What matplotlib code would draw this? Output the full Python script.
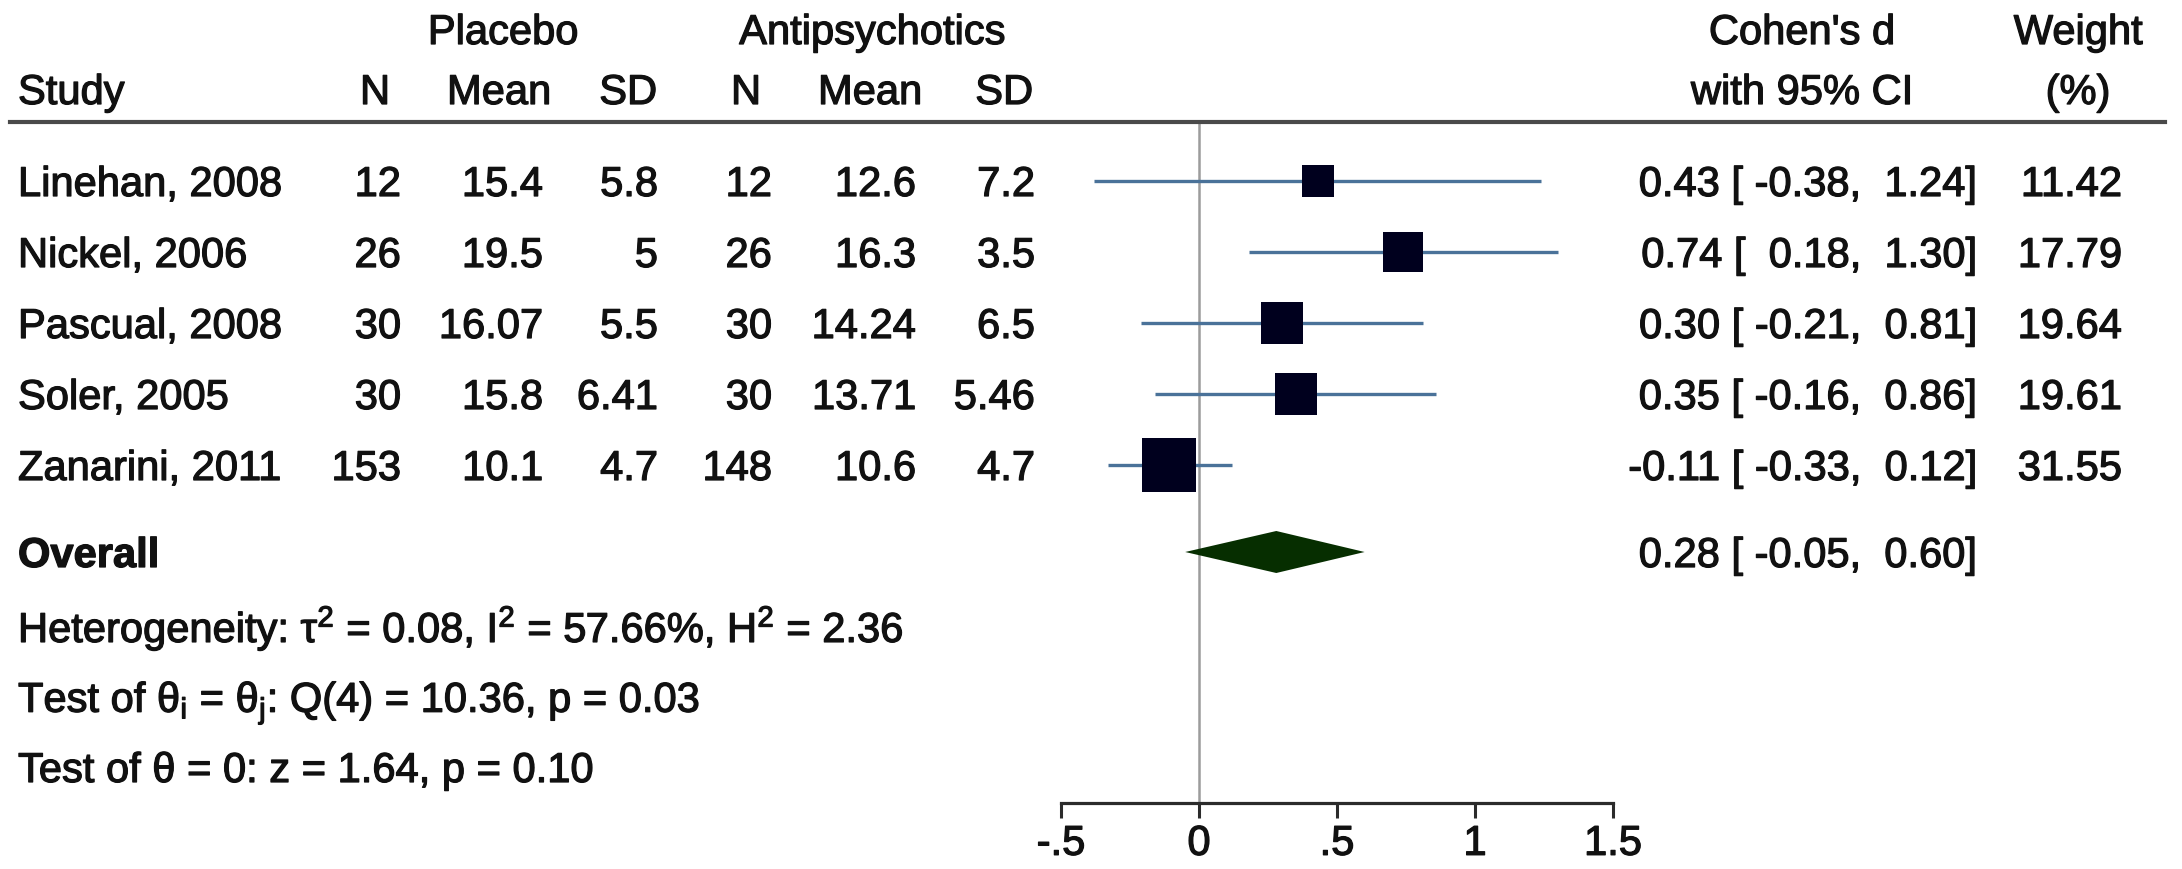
import numpy as np
import matplotlib.pyplot as plt
import matplotlib.transforms as mtransforms
import matplotlib.patheffects as pe
from matplotlib.patches import Polygon

plt.rcParams['font.family'] = ['Liberation Sans', 'DejaVu Sans']
plt.rcParams['mathtext.fontset'] = 'custom'
plt.rcParams['mathtext.rm'] = 'Liberation Sans'
plt.rcParams['mathtext.it'] = 'Liberation Sans:italic'
plt.rcParams['mathtext.bf'] = 'Liberation Sans:bold'

# data
studies = ["Linehan, 2008", "Nickel, 2006", "Pascual, 2008", "Soler, 2005", "Zanarini, 2011"]
plac_n = ["12", "26", "30", "30", "153"]
plac_mean = ["15.4", "19.5", "16.07", "15.8", "10.1"]
plac_sd = ["5.8", "5", "5.5", "6.41", "4.7"]
anti_n = ["12", "26", "30", "30", "148"]
anti_mean = ["12.6", "16.3", "14.24", "13.71", "10.6"]
anti_sd = ["7.2", "3.5", "6.5", "5.46", "4.7"]
cohen_d = [0.43, 0.74, 0.30, 0.35, -0.11]
ci_low = [-0.38, 0.18, -0.21, -0.16, -0.33]
ci_high = [1.24, 1.30, 0.81, 0.86, 0.12]
weights = [11.42, 17.79, 19.64, 19.61, 31.55]
overall = (0.28, -0.05, 0.60)
het_text = r"Heterogeneity: τ$^\mathrm{2}$ = 0.08, I$^\mathrm{2}$ = 57.66%, H$^\mathrm{2}$ = 2.36"
test1_text = r"Test of θ$_\mathrm{i}$ = θ$_\mathrm{j}$: Q(4) = 10.36, p = 0.03"
test2_text = "Test of θ = 0: z = 1.64, p = 0.10"
xticks = [-0.5, 0, 0.5, 1, 1.5]
xticklabels = ["-.5", "0", ".5", "1", "1.5"]

W, H = 2182, 869
fig = plt.figure(figsize=(W / 100, H / 100), dpi=100)
thick = [pe.withStroke(linewidth=0.9, foreground='#111111')]

# forest panel, row units on y (row 0 = first study)
row_px = 71.0
row0_px = 181.0
top_px, bot_px = 122.0, 803.0
left_px, right_px = 1061.0, 1613.0
ax = fig.add_axes([left_px / W, 1 - bot_px / H, (right_px - left_px) / W, (bot_px - top_px) / H])
ax.set_xlim(-0.5, 1.5)
ax.set_ylim((bot_px - row0_px) / row_px, (top_px - row0_px) / row_px)
ax.patch.set_visible(False)
for s in ['top', 'right', 'left']:
    ax.spines[s].set_visible(False)
ax.spines['bottom'].set_linewidth(2.3)
ax.spines['bottom'].set_color('#2b2b2b')
ax.set_yticks([])
ax.set_xticks(xticks)
ax.set_xticklabels(xticklabels, fontsize=30)
for t in ax.get_xticklabels():
    t.set_path_effects(thick)
ax.tick_params(axis='x', length=11, width=2.2, color='#2b2b2b', pad=4, labelcolor='#111111')

def ypos(p):
    return (p - row0_px) / row_px

rows = np.arange(len(studies))
overall_y = ypos(552)

ax.axvline(0, color='#9c9c9c', lw=1.8, zorder=1)
ax.hlines(rows, ci_low, ci_high, color='#4a7299', lw=2.4, zorder=2)
for i in rows:
    ax.plot(cohen_d[i], i, 's', color='#00001e', mec='#00001e', mew=0,
            ms=6.9 * np.sqrt(weights[i]), zorder=3)
dh = 21 / row_px
ax.add_patch(Polygon([[overall[1], overall_y], [overall[0], overall_y - dh],
                      [overall[2], overall_y], [overall[0], overall_y + dh]],
                     closed=True, color='#062e00', lw=0, zorder=3))

# text columns
tr = mtransforms.blended_transform_factory(fig.transFigure, ax.transData)
off = mtransforms.ScaledTranslation(0, -0.15, fig.dpi_scale_trans)
trb = tr + off
fs = 30

def put(xpx, y, s, ha='left', **kw):
    ax.text(xpx / W, y, s, ha=ha, va='baseline', fontsize=fs, transform=trb,
            color='#111111', path_effects=thick, **kw)

y_grp = ypos(29)
y_hdr = ypos(89)
put(503, y_grp, "Placebo", ha='center')
put(872, y_grp, "Antipsychotics", ha='center')
put(1802, y_grp, "Cohen's d", ha='center')
put(1802, y_hdr, "with 95% CI", ha='center')
put(2078, y_grp, "Weight", ha='center')
put(2078, y_hdr, "(%)", ha='center')
put(18, y_hdr, "Study")
for xpx, lab in [(390, "N"), (551, "Mean"), (657, "SD"), (761, "N"), (922, "Mean"), (1033, "SD")]:
    put(xpx, y_hdr, lab, ha='right')

cols = [(401, plac_n), (543, plac_mean), (658, plac_sd),
        (772, anti_n), (916, anti_mean), (1035, anti_sd)]
for i in rows:
    put(18, i, studies[i])
    for xpx, vals in cols:
        put(xpx, i, vals[i], ha='right')
    put(1977, i, f"{cohen_d[i]:.2f} [{ci_low[i]:6.2f}, {ci_high[i]:5.2f}]", ha='right')
    put(2122, i, f"{weights[i]:.2f}", ha='right')

put(18, overall_y, "Overall", fontweight='bold')
put(1977, overall_y, f"{overall[0]:.2f} [{overall[1]:6.2f}, {overall[2]:5.2f}]", ha='right')
put(18, ypos(627), het_text)
put(18, ypos(697), test1_text)
put(18, ypos(767), test2_text)

# header separator
fig.add_artist(plt.Line2D([10 / W, 2165 / W], [1 - 122 / H, 1 - 122 / H],
                          color='#4a4a4a', lw=3.0))

fig.savefig("out.png", dpi=100)
